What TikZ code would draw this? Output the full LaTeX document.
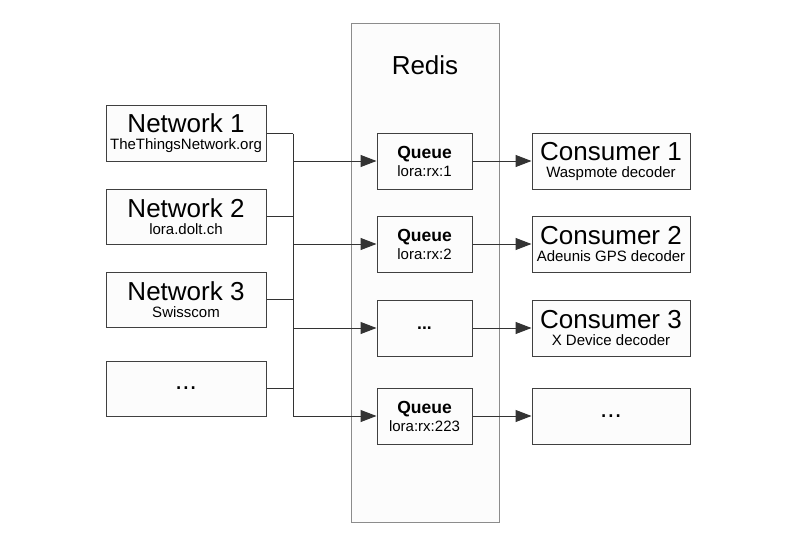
\documentclass[tikz,border=0pt]{standalone}
\usepackage{fontspec}
\setmainfont{Liberation Sans}
\usepackage{tikz}
\usetikzlibrary{positioning, arrows.meta, calc}
\definecolor{linegray}{HTML}{333333}
\definecolor{boxgray}{HTML}{404040}
\definecolor{boxfill}{HTML}{FCFCFC}
\definecolor{redisgray}{HTML}{8C8C8C}
\tikzset{>={Triangle[length=16pt,width=12pt]}}
\newcommand{\bigtxt}{\fontsize{26}{26}\selectfont}
\newcommand{\smalltxt}{\fontsize{15}{17}\selectfont}
\newcommand{\queuetxt}{\fontsize{17.5}{17.5}\selectfont\bfseries}
\tikzset{
    box/.style={draw=boxgray, fill=boxfill, line width=1pt, inner sep=0pt, align=center, minimum width=160pt, minimum height=55pt, font=\smalltxt},
    queuebox/.style={box, minimum width=95pt, minimum height=56pt, font=\fontsize{15}{18}\selectfont},
    consbox/.style={box, minimum width=158pt, minimum height=56pt},
    redisbox/.style={draw=redisgray, fill=boxfill, line width=1pt, minimum width=148pt, minimum height=498pt, inner sep=0pt},
    conn/.style={draw=linegray, line width=1pt}
}

\begin{document}
\begin{tikzpicture}[x=1pt, y=-1pt]
    \useasboundingbox (0,0) rectangle (794,559);

    % redis
    \node[redisbox] (redis) at (425,273) {};
    \node[font=\fontsize{26}{26}\selectfont] (redislabel) at (425,65) {Redis};

    % networks
    \node[box] (net1) at (186,133.5) {{\bigtxt Network 1}\\TheThingsNetwork.org};
    \node[box] (net2) at (186,216.5) {{\bigtxt Network 2}\\lora.dolt.ch};
    \node[box] (net3) at (186,299.5) {{\bigtxt Network 3}\\Swisscom};
    \node[box, font=\bigtxt] (net4) at (186,388.5) {...};

    % queues
    \node[queuebox] (q1) at (424.5,161) {{\queuetxt Queue}\\lora:rx:1};
    \node[queuebox] (q2) at (424.5,244) {{\queuetxt Queue}\\lora:rx:2};
    \node[queuebox, font=\queuetxt] (q3) at (424.5,328) {...};
    \node[queuebox] (q4) at (424.5,416) {{\queuetxt Queue}\\lora:rx:223};

    % consumers
    \node[consbox] (c1) at (611,161) {{\bigtxt Consumer 1}\\Waspmote decoder};
    \node[consbox] (c2) at (611,244) {{\bigtxt Consumer 2}\\Adeunis GPS decoder};
    \node[consbox] (c3) at (611,328) {{\bigtxt Consumer 3}\\X Device decoder};
    \node[consbox, font=\bigtxt] (c4) at (611,416) {...};

    % bus
    \coordinate (bus) at (293,0);
    \foreach \n in {net1,net2,net3,net4}
        \draw[conn] (\n.east) -- (\n.east -| bus);
    \draw[conn] (net1.east -| bus) -- (q4.west -| bus);
    \foreach \q in {q1,q2,q3,q4}
        \draw[conn, ->, fill=linegray] (\q.west -| bus) -- (\q.west);

    \foreach \i in {1,...,4}
        \draw[conn, ->, fill=linegray] (q\i) -- (c\i);
\end{tikzpicture}
\end{document}
